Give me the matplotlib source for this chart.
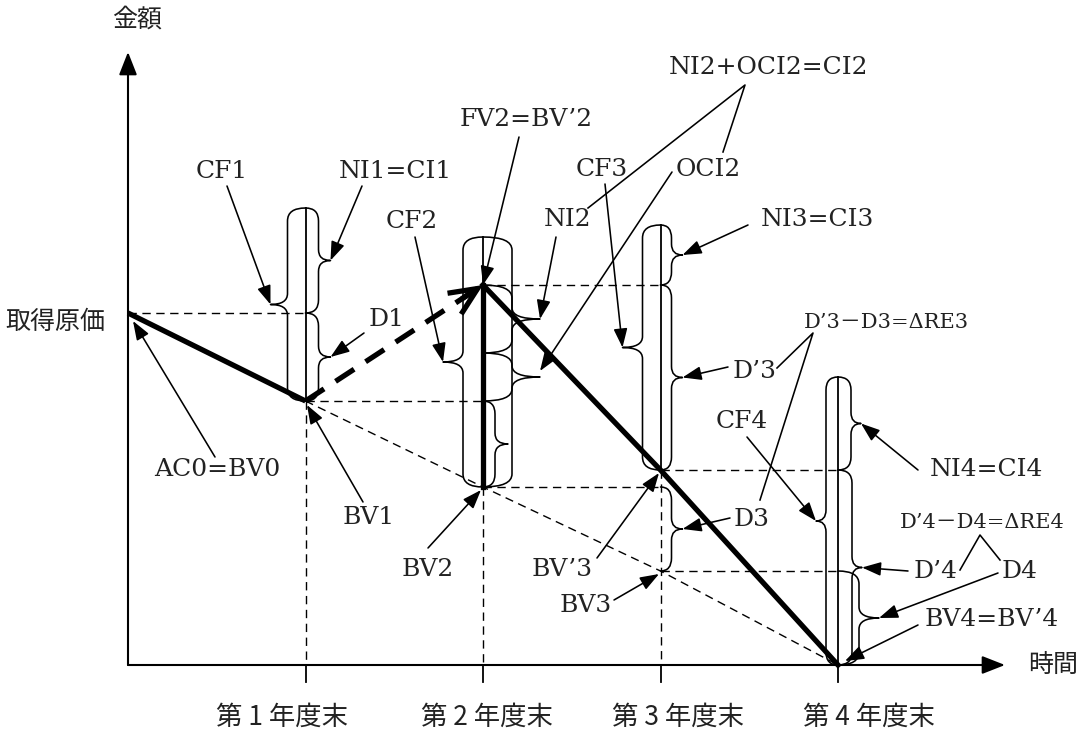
import matplotlib
matplotlib.use('Agg')
import matplotlib.pyplot as plt
from matplotlib.path import Path
from matplotlib.patches import PathPatch, FancyArrowPatch

# ---------------- data (amount units, year-end index) ----------------
years = [0, 1, 2, 3, 4]
year_labels = ['第 1 年度末', '第 2 年度末', '第 3 年度末', '第 4 年度末']
acquisition_cost = 352                      # AC0 = BV0
book_value = [352, 264, 178, 94, 0]         # amortized cost BV0..BV4
fair_value_bv = [None, None, 380, 195, 0]   # BV'2 (=FV2), BV'3, BV'4
cash_flow_top = [457, 428, 440, 288]        # top of CF brackets, years 1..4
col_bottom = [264, 178, 195, 0]             # bottom of CF brackets, years 1..4

# ---------------- canvas ----------------
W, H = 1088, 733
fig = plt.figure(figsize=(W / 100, H / 100), dpi=100)
ax = fig.add_axes([0, 0, 1, 1])
X0, Y0, SX = 128, 665, 177.5
ax.set_xlim(-X0 / SX, (W - X0) / SX)
ax.set_ylim(Y0 - H, Y0)
ax.axis('off')

SERIF = ['DejaVu Serif', 'Noto Sans CJK JP']
CJK = ['Noto Sans CJK JP', 'DejaVu Sans']
K = 'black'
TXT = '#222222'


def P(px, py):
    return ((px - X0) / SX, Y0 - py)


def dxp(px):
    return px / SX


def brace(xa, ytop, ybot, spine, cusp=None, side=1, r=13, rc=11, lw=1.15):
    xs = xa + side * dxp(spine)
    r = min(r, (ytop - ybot) / 4)
    verts = [(xa, ytop), (xs, ytop), (xs, ytop - r)]
    codes = [Path.MOVETO, Path.CURVE3, Path.CURVE3]
    tip = None
    if cusp is not None:
        xc = xa + side * dxp(cusp)
        ym = (ytop + ybot) / 2
        rc = min(rc, (ytop - ybot) / 4)
        verts += [(xs, ym + rc), (xs, ym), (xc, ym), (xs, ym), (xs, ym - rc)]
        codes += [Path.LINETO, Path.CURVE3, Path.CURVE3, Path.CURVE3, Path.CURVE3]
        tip = (xc, ym)
    verts += [(xs, ybot + r), (xs, ybot), (xa, ybot)]
    codes += [Path.LINETO, Path.CURVE3, Path.CURVE3]
    ax.add_patch(PathPatch(Path(verts, codes), fill=False, lw=lw, ec=K,
                           capstyle='round', joinstyle='round', zorder=3))
    return tip


def arrow(start_px, tip, lw=1.15):
    ax.add_patch(FancyArrowPatch(P(*start_px), tip,
                                 arrowstyle='-|>,head_length=1.15,head_width=0.42',
                                 mutation_scale=10, lw=lw, color=K,
                                 shrinkA=0, shrinkB=0, zorder=6))


def label(s, px, py, size=18, fam=SERIF):
    x, y = P(px, py)
    ax.text(x, y, s, ha='center', va='center', fontsize=size, family=fam,
            color=TXT, zorder=7)


def dashed(xs, ys, lw=1.0):
    ax.plot(xs, ys, color=K, lw=lw, ls=(0, (6, 4)), zorder=2)


# ---------------- axes ----------------
ax.add_patch(FancyArrowPatch(P(128, 665), P(128, 52),
                             arrowstyle='-|>,head_length=1.4,head_width=0.55',
                             mutation_scale=10, lw=1.5, color=K, shrinkA=0, shrinkB=0))
ax.add_patch(FancyArrowPatch(P(128, 665), P(1005, 665),
                             arrowstyle='-|>,head_length=1.4,head_width=0.55',
                             mutation_scale=10, lw=1.5, color=K, shrinkA=0, shrinkB=0))
for yr in years[1:]:
    ax.plot([yr, yr], [0, -17], color=K, lw=1.3)
label_shift_px = [-23, 4, 17, 31]
for yr, lab, sh in zip(years[1:], year_labels, label_shift_px):
    ax.text(yr + dxp(sh), Y0 - 717, lab, ha='center', va='center', fontsize=19,
            family=CJK, color=TXT)
label('金額', 137, 20, size=18, fam=CJK)
label('取得原価', 55, 322, size=18, fam=CJK)
label('時間', 1053, 665, size=18, fam=CJK)

# ---------------- dashed guide lines ----------------
dashed([years[0], years[1]], [acquisition_cost, acquisition_cost])
dashed([years[1], years[2]], [book_value[1], book_value[1]])
dashed([years[2], years[3]], [fair_value_bv[2], fair_value_bv[2]])
dashed([years[2], years[3]], [book_value[2], book_value[2]])
dashed([years[3], years[4]], [fair_value_bv[3], fair_value_bv[3]])
dashed([years[3], years[4]], [book_value[3], book_value[3]])
dashed(years[1:], book_value[1:])
dashed([years[1], years[1]], [book_value[1], 0])
dashed([years[2], years[2]], [book_value[2], 0])
dashed([years[3], years[3]], [fair_value_bv[3], 0])

# ---------------- column centre lines ----------------
for i, yr in enumerate(years[1:]):
    ax.plot([yr, yr], [cash_flow_top[i], col_bottom[i]], color=K, lw=1.3, zorder=3)

# ---------------- braces ----------------
t_cf1 = brace(1, cash_flow_top[0], col_bottom[0], 18, 35, side=-1)
t_ni1 = brace(1, cash_flow_top[0], acquisition_cost, 13, 25)
t_d1 = brace(1, acquisition_cost, book_value[1], 13, 25)

t_cf2 = brace(2, cash_flow_top[1], col_bottom[1], 20, 40, side=-1)
brace(2, cash_flow_top[1], col_bottom[1], 29, None)
mid2 = fair_value_bv[2] - 68
t_ni2 = brace(2, fair_value_bv[2], mid2, 29, 57)
t_oci2 = brace(2, mid2, book_value[1], 29, 57)
t_d2 = brace(2, book_value[1], book_value[2], 12, 25)

t_cf3 = brace(3, cash_flow_top[2], col_bottom[2], 18, 38, side=-1)
t_ni3 = brace(3, cash_flow_top[2], fair_value_bv[2], 11, 22)
t_dp3 = brace(3, fair_value_bv[2], fair_value_bv[3], 11, 22)
t_d3 = brace(3, book_value[2], book_value[3], 11, 22)

t_cf4 = brace(4, cash_flow_top[3], col_bottom[3], 12, 22, side=-1)
t_ni4 = brace(4, cash_flow_top[3], fair_value_bv[3], 13, 23)
t_dp4 = brace(4, fair_value_bv[3], fair_value_bv[4], 14, 24)
t_d4 = brace(4, book_value[3], book_value[4], 21, 41)

# ---------------- thick value path ----------------
TW = 3.8
ax.plot(years[0:2], book_value[0:2], color=K, lw=TW, solid_capstyle='butt', zorder=5)
ax.plot([years[1], years[2]], [book_value[1], fair_value_bv[2]], color=K, lw=TW,
        ls=(0, (4.2, 2.6)), zorder=5)
hx = years[2] - (years[2] - years[1]) * 0.12
hy = fair_value_bv[2] - (fair_value_bv[2] - book_value[1]) * 0.12
ax.add_patch(FancyArrowPatch((hx, hy), (years[2], fair_value_bv[2]),
                             arrowstyle='->,head_length=2.0,head_width=0.9',
                             mutation_scale=10, lw=TW, color=K, shrinkA=0, shrinkB=0,
                             joinstyle='miter', capstyle='butt', zorder=5))
ax.plot([years[2], years[2]], [book_value[2], fair_value_bv[2]], color=K, lw=TW, zorder=5)
ax.plot(years[2:], fair_value_bv[2:], color=K, lw=TW, zorder=5)

# ---------------- labels & arrows ----------------
label('CF1', 222, 172); arrow((227, 186), t_cf1)
label('NI1=CI1', 395, 172); arrow((362, 186), t_ni1)
label('D1', 386, 320); arrow((364, 333), t_d1)
label('CF2', 412, 222); arrow((415, 237), t_cf2)
label('FV2=BV’2', 526, 120); arrow((519, 137), (years[2], fair_value_bv[2]))
label('NI2+OCI2=CI2', 768, 68)
ax.plot(*zip(P(588, 208), P(745, 85), P(723, 152)), color=K, lw=1.15)
label('NI2', 568, 220); arrow((556, 237), t_ni2)
label('CF3', 602, 170); arrow((605, 184), t_cf3)
label('OCI2', 708, 170); arrow((672, 172), (t_oci2[0], t_oci2[1] + 6))
label('NI3=CI3', 817, 220); arrow((748, 225), t_ni3)
label('D’3－D3=ΔRE3', 886, 322, size=15)
ax.plot(*zip(P(777, 368), P(813, 333), P(760, 500)), color=K, lw=1.15)
label('D’3', 755, 372); arrow((728, 367), t_dp3)
label('CF4', 742, 422); arrow((747, 437), t_cf4)
label('D3', 752, 520); arrow((730, 518), t_d3)
label('NI4=CI4', 986, 470); arrow((918, 470), t_ni4)
label('D’4－D4=ΔRE4', 982, 523, size=15)
ax.plot(*zip(P(960, 570), P(980, 535), P(1000, 560)), color=K, lw=1.15)
label('D’4', 936, 572); arrow((908, 571), t_dp4)
label('D4', 1020, 572); arrow((998, 573), t_d4)
label('BV4=BV’4', 992, 620); arrow((918, 625), P(845, 661))
label('AC0=BV0', 217, 470); arrow((215, 457), P(133, 321))
label('BV1', 369, 518); arrow((363, 502), P(307, 405))
label('BV2', 428, 570); arrow((428, 548), P(481, 490))
label('BV’3', 562, 570); arrow((597, 558), P(659, 473))
label('BV3', 586, 606); arrow((614, 600), P(659, 574))

fig.savefig('out.png', dpi=100, facecolor='white')
